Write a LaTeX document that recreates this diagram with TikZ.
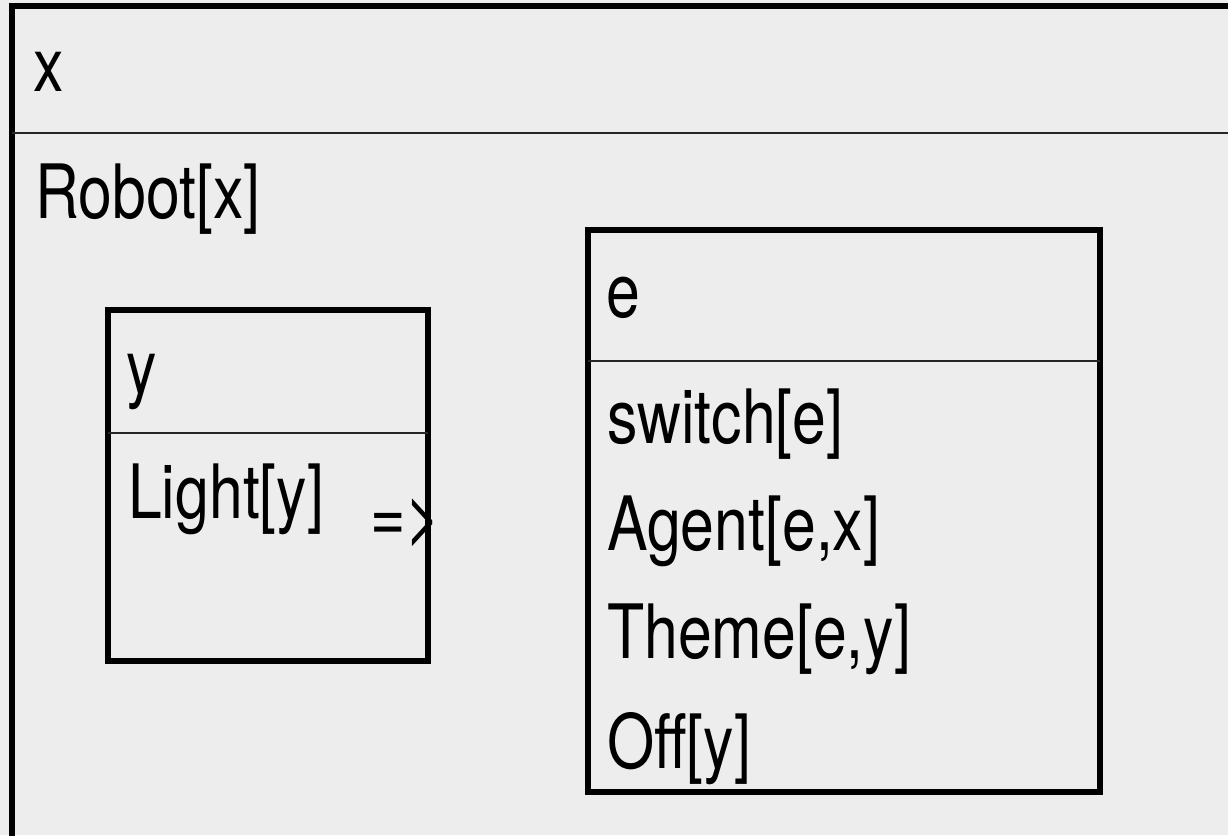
\documentclass[tikz,border=0pt]{standalone}
\usepackage{fontspec}
\setmainfont[FakeStretch=0.81]{TeX Gyre Heros}
\begin{document}
\begin{tikzpicture}[x=1pt,y=-1pt,
  box/.style={draw=black,line width=5.5pt,fill=none},
  thinline/.style={draw=black!85,line width=1.8pt},
  lbl/.style={anchor=base west,inner sep=0pt,font=\fontsize{75}{80}\selectfont}]
\useasboundingbox (0,0) rectangle (1228,835);
\fill[black!7] (0,0) rectangle (1228,835);
\clip (0,0) rectangle (1228,835);
% outer box
\draw[box,line width=6pt] (12,5.5) rectangle (1260,870);
\coordinate (oL) at (12,133);
\coordinate (oR) at (1260,133);
\draw[thinline] (oL) -- (oR);
\node[lbl] (tx) at (33,91) {x};
\node[lbl] (robot) at (35,218) {Robot[x]};
% box y
\draw[box] (108,310) rectangle (428,661);
\coordinate (yL) at (108,433);
\coordinate (yR) at (428,433);
\draw[thinline] (yL) -- (yR);
\node[lbl] (ty) at (126,393) {y};
\node[lbl] (light) at (128,518) {Light[y]};
\node[lbl] (imp) at (370,541) {=>};
% box e
\draw[box] (588,230) rectangle (1100,792);
\coordinate (eL) at (588,361);
\coordinate (eR) at (1100,361);
\draw[thinline] (eL) -- (eR);
\node[lbl] (te) at (606,317) {e};
\node[lbl] (sw) at (607,443) {switch[e]};
\node[lbl] (ag) at (607,550) {Agent[e,x]};
\node[lbl] (th) at (607,658) {Theme[e,y]};
\node[lbl] (off) at (607,768) {Off[y]};
\end{tikzpicture}
\end{document}
